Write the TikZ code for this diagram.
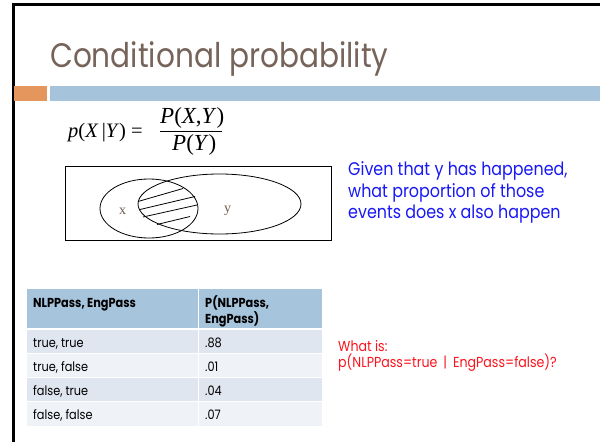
\documentclass[tikz,border=0pt]{standalone}
\usepackage{fontspec}
\setmainfont{Poppins}
\newfontfamily\narrowf[FakeStretch=0.87]{Poppins}
\newfontfamily\timesf{Liberation Serif}
\definecolor{titlec}{RGB}{118,100,90}
\definecolor{orangebar}{RGB}{229,150,92}
\definecolor{bluebar}{RGB}{166,195,220}
\definecolor{hdrc}{RGB}{167,196,221}
\definecolor{rowa}{RGB}{224,230,239}
\definecolor{rowb}{RGB}{239,242,247}
\definecolor{bluetxt}{RGB}{25,25,245}
\definecolor{redtxt}{RGB}{250,20,30}
\definecolor{xyc}{RGB}{110,90,80}
\begin{document}
\begin{tikzpicture}[x=1pt,y=-1pt,
  txt/.style={inner sep=0pt,anchor=base west},
  cellA/.style={fill=rowa},
  cellB/.style={fill=rowb},
  hdr/.style={fill=hdrc},
  tabtxt/.style={txt,font=\narrowf\fontsize{13}{15}\selectfont},
  tabhdr/.style={txt,font=\narrowf\fontsize{13}{16}\selectfont\bfseries},
  bluet/.style={txt,font=\narrowf\fontsize{18.3}{21.5}\selectfont,text=bluetxt},
  redt/.style={txt,font=\narrowf\fontsize{14.5}{16}\selectfont,text=redtxt},
  formula/.style={txt,font=\timesf\fontsize{23}{26}\selectfont},
  venn/.style={draw=black,line width=0.8pt}]
\useasboundingbox (0,0) rectangle (600,442);
\fill[white] (0,0) rectangle (600,442);
% slide frame
\draw[line width=3pt] (13,442) -- (13,4.5) -- (600,4.5);
% bars
\fill[orangebar] (14,86) rectangle (47,100.5);
\fill[bluebar] (50,86) rectangle (600,100.5);
% title
\node[txt,font=\narrowf\fontsize{34}{40}\selectfont,text=titlec] (title) at (50,67) {Conditional probability};
% formula
\node[formula,font=\timesf\fontsize{20.5}{26}\selectfont] (lhs) at (68,137) {\textit{p}(\textit{X}\,|\textit{Y}) =};
\node[formula] (num) at (160,123) {\textit{P}(\textit{X},\textit{Y})};
\node[formula] (den) at (172,150) {\textit{P}(\textit{Y})};
\draw[line width=0.8pt] (160,131.5) -- (222,131.5);
% venn
\draw[venn] (65,166) rectangle (331,240);
\draw[venn] (149,208.5) ellipse [x radius=49,y radius=29.5];
\draw[venn] (219.5,204) ellipse [x radius=81.5,y radius=30];
\draw[venn] (138,201.5) -- (183,188.5);
\draw[venn] (140,209.5) -- (195,196.5);
\draw[venn] (143,217) -- (197,205);
\draw[venn] (157,224.5) -- (190,216.5);
\node[txt,font=\timesf\fontsize{14}{16}\selectfont,text=xyc] (xl) at (119,214) {x};
\node[txt,font=\timesf\fontsize{14}{16}\selectfont,text=xyc] (yl) at (224,212) {y};
% blue text
\node[bluet] (given1) at (348,175) {Given that y has happened,};
\node[bluet] (given2) at (348,197) {what proportion of those};
\node[bluet] (given3) at (348,218.5) {events does x also happen};
% table
\fill[hdr] (27,289) rectangle (322,329);
\fill[cellA] (27,329) rectangle (322,353.5);
\fill[cellB] (27,353.5) rectangle (322,377.5);
\fill[cellA] (27,377.5) rectangle (322,401.5);
\fill[cellB] (27,401.5) rectangle (322,426);
\draw[white,line width=2pt] (27,329) -- (322,329);
\draw[white,line width=1pt] (198,289) -- (198,426);
\draw[white,line width=1pt] (27,353.5) -- (322,353.5) (27,377.5) -- (322,377.5) (27,401.5) -- (322,401.5);
\node[tabhdr] (h1) at (33,307) {NLPPass, EngPass};
\node[tabhdr] (h2) at (205,307) {P(NLPPass,};
\node[tabhdr] (h3) at (205,323) {EngPass)};
\node[tabtxt] (r1a) at (33,347) {true, true};
\node[tabtxt] (r1b) at (205,347) {.88};
\node[tabtxt] (r2a) at (33,371) {true, false};
\node[tabtxt] (r2b) at (205,371) {.01};
\node[tabtxt] (r3a) at (33,395) {false, true};
\node[tabtxt] (r3b) at (205,395) {.04};
\node[tabtxt] (r4a) at (33,419) {false, false};
\node[tabtxt] (r4b) at (205,419) {.07};
% red text
\node[redt] (what) at (338,351) {What is:};
\node[redt] (q) at (338,367) {p(NLPPass=true\hspace{6pt}|\hspace{6pt}EngPass=false)?};
\end{tikzpicture}
\end{document}
